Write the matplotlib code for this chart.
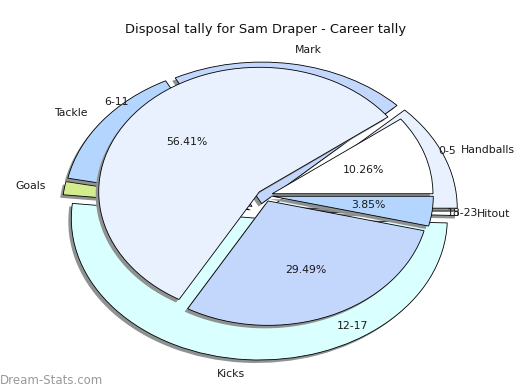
import matplotlib
matplotlib.use('Agg')
import matplotlib.pyplot as plt

title = "Disposal tally for Sam Draper - Career tally"
inner_labels = ["0-5", "6-11", "12-17", "18-23"]
inner_values = [8, 44, 23, 3]
outer_labels = ["Handballs", "Mark", "Tackle", "Goals", "Kicks", "Hitout"]
outer_values = [12.2, 20.4, 14.2, 1.5, 51.2, 0.5]

inner_colors = ['#ffffff', '#eaf1fe', '#c3d7fd', '#b3d5fe']
outer_colors = ['#eaf1fe', '#c3d7fd', '#b3d5fe', '#d2ec8e', '#daffff', '#ffffff']

fig = plt.figure(figsize=(5.2, 3.9), dpi=100)
ax = fig.add_axes([0, 0, 1, 1])
ax_in = fig.add_axes([0, 0, 1, 1])
ax_in.patch.set_alpha(0)

shadow_color = '#8e9292'
txt = dict(fontsize=7.8, color='#1a1a1a')

# outer ring shadow + wedges
sh_out = (-0.016, -0.021)
ex_out = [0.053] * len(outer_values)
ax.pie(outer_values, radius=1, center=sh_out,
       explode=ex_out, colors=[shadow_color] * len(outer_values), startangle=0,
       wedgeprops=dict(linewidth=0))
ax.pie(outer_values, labels=outer_labels, radius=1, center=(0, 0), explode=ex_out,
       colors=outer_colors, startangle=0, labeldistance=1.10,
       wedgeprops=dict(edgecolor='black', linewidth=0.6), textprops=txt)
ax.set_aspect('auto')
ax.set_xlim(-1.383, 1.383)
ax.set_ylim(-1.265, 1.491)
ax.axis('off')

# inner pie shadow + wedges
R_in = 0.855
in_c = (0.027, 0.0)
sh_in = (in_c[0] - 0.016, in_c[1] - 0.0205)
ex_in = [0.04] * len(inner_values)
ax_in.pie(inner_values, radius=R_in, center=sh_in,
          explode=ex_in, colors=[shadow_color] * len(inner_values), startangle=0,
          wedgeprops=dict(linewidth=0))
ax_in.pie(inner_values, labels=inner_labels, radius=R_in, center=in_c, explode=ex_in,
          colors=inner_colors, startangle=0, labeldistance=1.09,
          autopct='%.2f%%', pctdistance=0.6,
          wedgeprops=dict(edgecolor='black', linewidth=0.6), textprops=txt)
ax_in.set_aspect('auto')
ax_in.set_xlim(-1.383, 1.383)
ax_in.set_ylim(-1.336, 1.344)
ax_in.axis('off')

fig.text(266 / 520, 1 - 30 / 390, title, ha='center', va='center', fontsize=9.4, color='#111111')
fig.text(0.0, 1 - 380 / 390, 'Dream-Stats.com', ha='left', va='center', fontsize=8.5,
         color='#999999')

fig.savefig('out.png', dpi=100)
